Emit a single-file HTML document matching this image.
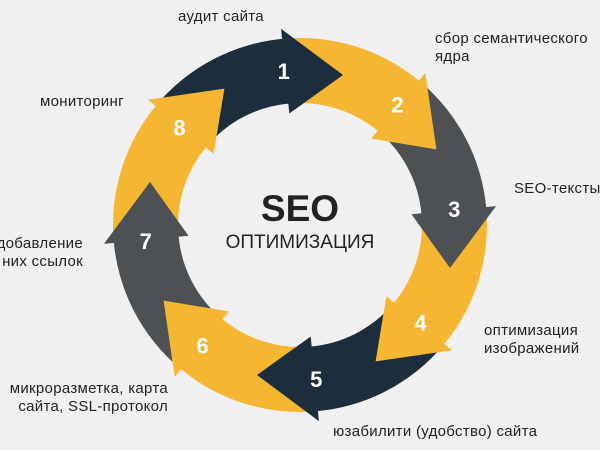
<!DOCTYPE html>
<html><head><meta charset="utf-8"><style>
html,body{margin:0;padding:0;background:#f0f0f0;}
#w{position:relative;width:600px;height:450px;overflow:hidden;background:#f0f0f0;font-family:"Liberation Sans","DejaVu Sans",sans-serif;color:#222;}
.t{position:absolute;font-size:15px;letter-spacing:0.3px;line-height:18px;white-space:nowrap;}
</style></head><body><div id="w">
<svg id="s" width="600" height="450" style="position:absolute;left:0;top:0"></svg>
<div class="t" style="left:178px;top:8px">аудит сайта</div>
<div class="t" style="left:435px;top:30px">сбор семантического<br>ядра</div>
<div class="t" style="left:40px;top:93px">мониторинг</div>
<div class="t" style="left:514px;top:180px">SEO-тексты</div>
<div class="t" style="right:517px;top:235px;text-align:right">добавление<br>них ссылок</div>
<div class="t" style="left:484px;top:322px">оптимизация<br>изображений</div>
<div class="t" style="right:432px;top:380px;text-align:right">микроразметка, карта<br>сайта, SSL-протокол</div>
<div class="t" style="left:333px;top:423px">юзабилити (удобство) сайта</div>
<div style="position:absolute;left:200px;top:188px;width:200px;text-align:center;font-weight:bold;font-size:37px;line-height:42px;color:#222">SEO</div>
<div style="position:absolute;left:200px;top:231px;width:200px;text-align:center;font-size:19px;line-height:24px;color:#222">ОПТИМИЗАЦИЯ</div>
</div>
<script>
var s=document.getElementById('s'),cx=300,cy=225,R=187,r=122;
var cols=['#1c2e3d','#f5b731','#4e5154','#f5b731','#1c2e3d','#f5b731','#4e5154','#f5b731'];
function p(a,rad){var t=a*Math.PI/180;return (cx+rad*Math.cos(t)).toFixed(1)+','+(cy+rad*Math.sin(t)).toFixed(1);}
var bodies='',heads='',nums='';
for(var k=0;k<8;k++){
 var h=-95+45*k,a0=h-45;
 bodies+='<path fill="'+cols[k]+'" d="M'+p(a0,R)+' A'+R+','+R+' 0 0 1 '+p(h,R)+' L'+p(h,r)+' A'+r+','+r+' 0 0 0 '+p(a0,r)+' Z"/>';
 heads+='<polygon fill="'+cols[k]+'" points="'+p(h-0.5,112)+' '+p(h-0.5,197)+' '+p(h+21,156)+'"/>';
 var t=(h-1)*Math.PI/180,x=cx+155*Math.cos(t),y=cy+155*Math.sin(t);
 nums+='<text x="'+x.toFixed(1)+'" y="'+(y+8).toFixed(1)+'" text-anchor="middle" font-family="Liberation Sans,sans-serif" font-weight="bold" font-size="22" fill="#fff">'+(k+1)+'</text>';
}
s.innerHTML=bodies+heads+nums;
</script>
</body></html>
